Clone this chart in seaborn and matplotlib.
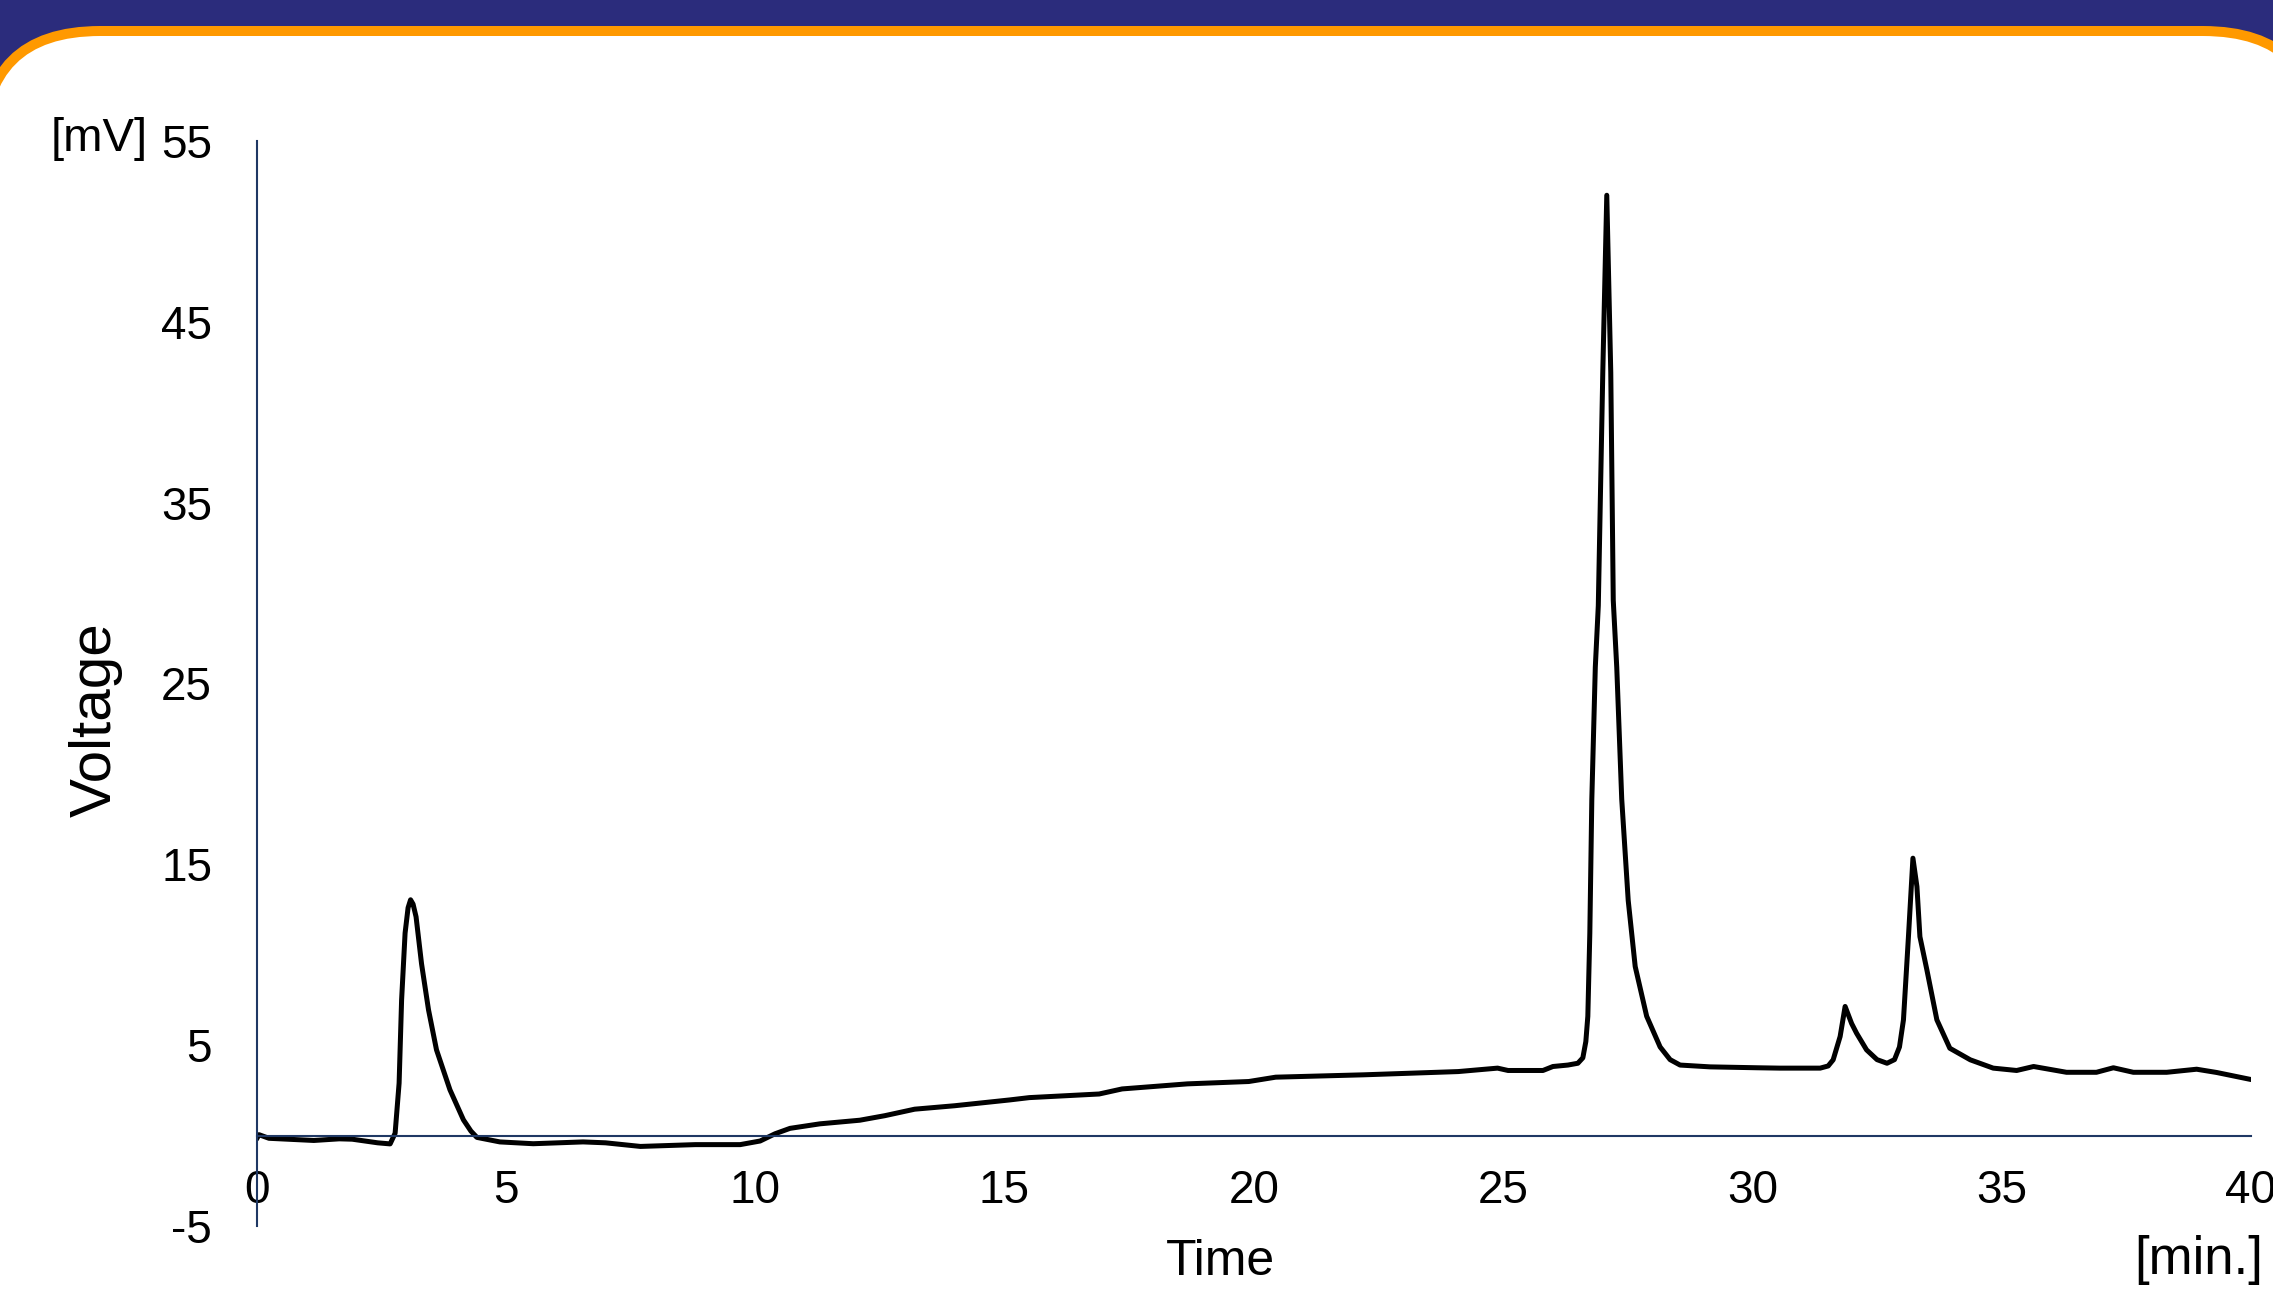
import matplotlib
matplotlib.use("Agg")
import matplotlib.pyplot as plt
from matplotlib.patches import FancyBboxPatch
import seaborn as sns
import pandas as pd

# Chromatogram trace (time in min, voltage in mV)
time_min = [0.0, 0.05, 0.25, 1.15, 1.66, 1.92, 2.43, 2.68, 2.78, 2.86, 2.91, 2.98,
            3.04, 3.09, 3.14, 3.2, 3.31, 3.45, 3.61, 3.88, 4.15, 4.3, 4.42, 4.88, 5.55,
            6.55, 7.0, 7.7, 8.8, 9.7, 10.1, 10.4, 10.7, 11.3, 12.1, 12.6, 13.2, 14.0,
            15.1, 15.5, 16.9, 17.36, 18.67, 19.9, 20.44, 22.2, 24.1, 24.89, 25.1,
            25.8, 26.0, 26.3, 26.5, 26.6, 26.66, 26.7, 26.74, 26.78, 26.85, 26.91,
            27.0, 27.08, 27.16, 27.21, 27.28, 27.38, 27.51, 27.65, 27.88, 28.15,
            28.35, 28.55, 29.15, 30.1, 30.55, 31.36, 31.52, 31.62, 31.76, 31.86,
            31.99, 32.09, 32.29, 32.5, 32.7, 32.85, 32.95, 33.03, 33.13, 33.22, 33.3,
            33.36, 33.5, 33.7, 33.96, 34.37, 34.83, 35.3, 35.64, 36.3, 36.9, 37.24,
            37.64, 38.31, 38.91, 39.31, 40.0]
voltage_mv = [-0.2, 0.05, -0.15, -0.27, -0.18, -0.2, -0.4, -0.46, 0.13, 2.9, 7.5, 11.2,
              12.6, 13.04, 12.8, 12.1, 9.5, 6.95, 4.74, 2.53, 0.87, 0.25, -0.1, -0.35, -0.45,
              -0.35, -0.4, -0.6, -0.5, -0.5, -0.3, 0.1, 0.4, 0.65, 0.85, 1.1, 1.46, 1.65,
              1.97, 2.1, 2.3, 2.58, 2.86, 2.99, 3.23, 3.36, 3.54, 3.73, 3.6,
              3.6, 3.82, 3.9, 4.0, 4.3, 5.2, 6.6, 11.2, 18.6, 25.9, 29.3,
              42.2, 52.0, 42.2, 29.6, 25.9, 18.6, 13.0, 9.35, 6.6, 4.9,
              4.2, 3.9, 3.8, 3.75, 3.73, 3.73, 3.85, 4.19, 5.48, 7.14,
              6.2, 5.66, 4.74, 4.2, 4.0, 4.2, 4.9, 6.4, 11.0, 15.34, 13.77,
              11.0, 9.16, 6.4, 4.83, 4.19, 3.73, 3.6, 3.82, 3.5, 3.5, 3.75,
              3.5, 3.5, 3.67, 3.49, 3.1]

x_ticks = [0, 5, 10, 15, 20, 25, 30, 35, 40]
y_ticks = [-5, 5, 15, 25, 35, 45, 55]

df = pd.DataFrame({"Time": time_min, "Voltage": voltage_mv})

sns.set_theme(style="white")
plt.rcParams["font.family"] = ["Liberation Sans", "DejaVu Sans"]
plt.rcParams["axes.unicode_minus"] = False
plt.rcParams["text.color"] = "black"

W, H = 2273, 1291
fig = plt.figure(figsize=(W / 100, H / 100), dpi=100)
fig.patch.set_facecolor("#2B2C7C")

# slide background: white panel with orange rounded border
bg = fig.add_axes([0, 0, 1, 1], zorder=0)
bg.set_xlim(0, W)
bg.set_ylim(H, 0)
bg.axis("off")
panel = FancyBboxPatch((-17, 31), 2337, 1400,
                       boxstyle="round,pad=0,rounding_size=117",
                       facecolor="white", edgecolor="#FF9900", linewidth=7.2)
bg.add_patch(panel)

axis_col = "#1F3864"
ax = fig.add_axes([256.5 / W, 65 / H, (2251 - 256.5) / W, (1226 - 141) / H], zorder=1)
ax.patch.set_alpha(0)

sns.lineplot(data=df, x="Time", y="Voltage", ax=ax, color="black", linewidth=3.6)

ax.set_xlim(0, 40)
ax.set_ylim(-5, 55)
ax.set_xticks(x_ticks)
ax.set_yticks(y_ticks)
ax.set_xlabel("")
ax.set_ylabel("")
for s in ["top", "right"]:
    ax.spines[s].set_visible(False)
ax.spines["left"].set_color(axis_col)
ax.spines["left"].set_linewidth(1.5)
ax.spines["bottom"].set_position(("data", 0))
ax.spines["bottom"].set_color(axis_col)
ax.spines["bottom"].set_linewidth(1.5)
ax.tick_params(axis="x", length=0, pad=24, labelsize=33, labelcolor="black")
ax.tick_params(axis="y", length=0, pad=32, labelsize=33, labelcolor="black")

fig.text(99 / W, 1 - 139 / H, "[mV]", ha="center", va="center", fontsize=34, color="black")
fig.text(96 / W, 1 - 720 / H, "Voltage", ha="center", va="center", rotation=90,
         fontsize=42, color="black")
fig.text(1220 / W, 1 - 1262 / H, "Time", ha="center", va="center", fontsize=36, color="black")
fig.text(2199 / W, 1 - 1260 / H, "[min.]", ha="center", va="center", fontsize=38, color="black")

fig.savefig("out.png", dpi=100, facecolor=fig.get_facecolor())
